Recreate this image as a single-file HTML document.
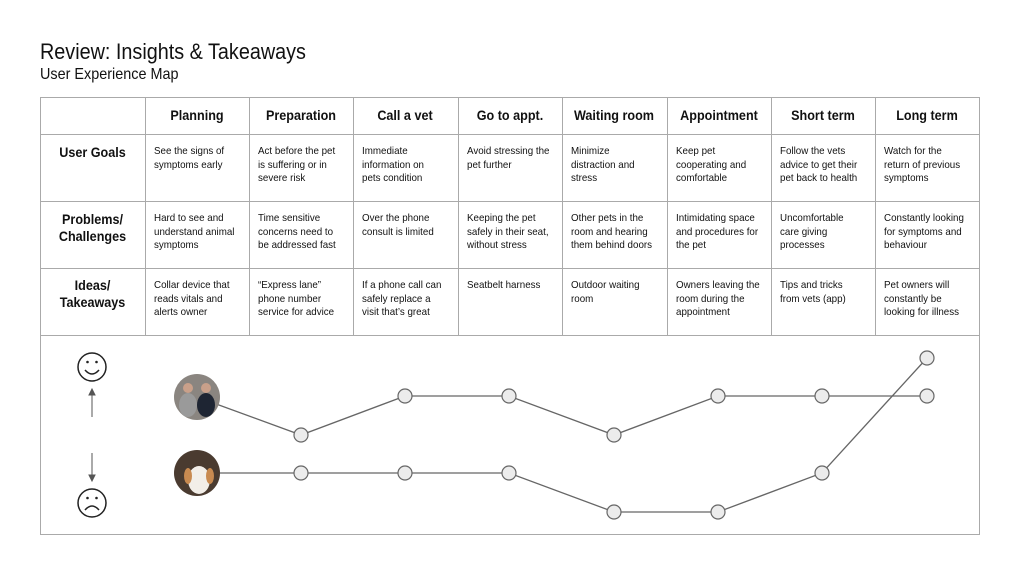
<!DOCTYPE html>
<html><head><meta charset="utf-8"><style>
body{margin:0;width:1020px;height:574px;background:#fff;position:relative;overflow:hidden;font-family:"Liberation Sans",sans-serif;color:#111}
.a{position:absolute}
h1{position:absolute;left:40px;top:39px;margin:0;font-size:22px;font-weight:normal;transform:scaleX(0.9);transform-origin:left;white-space:nowrap}
.sub{left:40px;top:66px;font-size:16px;transform:scaleX(0.9);transform-origin:left;white-space:nowrap}
.c{position:absolute;font-size:10.3px;line-height:13.5px;width:110px;transform:scaleX(0.95);transform-origin:left;white-space:nowrap}
.h{position:absolute;font-size:14px;font-weight:bold;text-align:center;width:104px;transform:scaleX(0.9);white-space:nowrap}
.r{position:absolute;font-size:14px;font-weight:bold;text-align:center;width:105px;left:40px;line-height:17px;transform:scaleX(0.9)}
</style></head><body>
<h1>Review: Insights &amp; Takeaways</h1>
<div class="a sub">User Experience Map</div>
<svg class="a" style="left:0;top:0" width="1020" height="574">
<g stroke="#aaa" stroke-width="1" fill="none">
<rect x="40.5" y="97.5" width="939" height="437"/>
<line x1="40" y1="134.5" x2="980" y2="134.5"/>
<line x1="40" y1="201.5" x2="980" y2="201.5"/>
<line x1="40" y1="268.5" x2="980" y2="268.5"/>
<line x1="40" y1="335.5" x2="980" y2="335.5"/>
<line x1="145.5" y1="97" x2="145.5" y2="335"/>
<line x1="249.5" y1="97" x2="249.5" y2="335"/>
<line x1="353.5" y1="97" x2="353.5" y2="335"/>
<line x1="458.5" y1="97" x2="458.5" y2="335"/>
<line x1="562.5" y1="97" x2="562.5" y2="335"/>
<line x1="667.5" y1="97" x2="667.5" y2="335"/>
<line x1="771.5" y1="97" x2="771.5" y2="335"/>
<line x1="875.5" y1="97" x2="875.5" y2="335"/>
</g>
<g stroke="#666" stroke-width="1.3" fill="none">
<polyline points="197,397 301,435 405,396 509,396 614,435 718,396 822,396 927,396"/>
<polyline points="197,473 301,473 405,473 509,473 614,512 718,512 822,473 927,358"/>
</g>
<g stroke="#666" stroke-width="1.2" fill="#ececec">
<circle cx="301" cy="435" r="7"/><circle cx="405" cy="396" r="7"/><circle cx="509" cy="396" r="7"/><circle cx="614" cy="435" r="7"/><circle cx="718" cy="396" r="7"/><circle cx="822" cy="396" r="7"/><circle cx="927" cy="396" r="7"/>
<circle cx="301" cy="473" r="7"/><circle cx="405" cy="473" r="7"/><circle cx="509" cy="473" r="7"/><circle cx="614" cy="512" r="7"/><circle cx="718" cy="512" r="7"/><circle cx="822" cy="473" r="7"/><circle cx="927" cy="358" r="7"/>
</g>
<circle cx="197" cy="397" r="23" fill="#8a8580"/>
<ellipse cx="188" cy="405" rx="9" ry="12" fill="#9a9a9a"/>
<ellipse cx="206" cy="405" rx="9" ry="12" fill="#1e2533"/>
<circle cx="188" cy="388" r="5" fill="#c9a08a"/><circle cx="206" cy="388" r="5" fill="#c9a08a"/>
<circle cx="197" cy="473" r="23" fill="#4a3b30"/>
<ellipse cx="199" cy="480" rx="11" ry="14" fill="#f2eee8"/>
<ellipse cx="188" cy="476" rx="4" ry="8" fill="#c88a50"/><ellipse cx="210" cy="476" rx="4" ry="8" fill="#c88a50"/>
<g stroke="#222" stroke-width="1.5" fill="none">
<circle cx="92" cy="367" r="14"/><path d="M85,370 Q92,378 99,370"/>
<circle cx="92" cy="503" r="14"/><path d="M85,510 Q92,502 99,510"/>
</g>
<circle cx="87.5" cy="362" r="1.3" fill="#222"/><circle cx="96.5" cy="362" r="1.3" fill="#222"/>
<circle cx="87.5" cy="498" r="1.3" fill="#222"/><circle cx="96.5" cy="498" r="1.3" fill="#222"/>
<g stroke="#555" stroke-width="1" fill="#555">
<line x1="92" y1="417" x2="92" y2="393"/><path d="M89,395 L92,389 L95,395Z"/>
<line x1="92" y1="453" x2="92" y2="477"/><path d="M89,475 L92,481 L95,475Z"/>
</g>
</svg>
<div class="h" style="left:145px;top:107px">Planning</div>
<div class="h" style="left:249px;top:107px">Preparation</div>
<div class="h" style="left:353px;top:107px">Call a vet</div>
<div class="h" style="left:458px;top:107px">Go to appt.</div>
<div class="h" style="left:562px;top:107px">Waiting room</div>
<div class="h" style="left:667px;top:107px">Appointment</div>
<div class="h" style="left:771px;top:107px">Short term</div>
<div class="h" style="left:875px;top:107px">Long term</div>
<div class="r" style="top:144px">User Goals</div>
<div class="r" style="top:211px">Problems/<br>Challenges</div>
<div class="r" style="top:277px">Ideas/<br>Takeaways</div>
<div class="c" style="left:154px;top:145px">See the signs of<br>symptoms early</div>
<div class="c" style="left:258px;top:145px">Act before the pet<br>is suffering or in<br>severe risk</div>
<div class="c" style="left:362px;top:145px">Immediate<br>information on<br>pets condition</div>
<div class="c" style="left:467px;top:145px">Avoid stressing the<br>pet further</div>
<div class="c" style="left:571px;top:145px">Minimize<br>distraction and<br>stress</div>
<div class="c" style="left:676px;top:145px">Keep pet<br>cooperating and<br>comfortable</div>
<div class="c" style="left:780px;top:145px">Follow the vets<br>advice to get their<br>pet back to health</div>
<div class="c" style="left:884px;top:145px">Watch for the<br>return of previous<br>symptoms</div>
<div class="c" style="left:154px;top:212px">Hard to see and<br>understand animal<br>symptoms</div>
<div class="c" style="left:258px;top:212px">Time sensitive<br>concerns need to<br>be addressed fast</div>
<div class="c" style="left:362px;top:212px">Over the phone<br>consult is limited</div>
<div class="c" style="left:467px;top:212px">Keeping the pet<br>safely in their seat,<br>without stress</div>
<div class="c" style="left:571px;top:212px">Other pets in the<br>room and hearing<br>them behind doors</div>
<div class="c" style="left:676px;top:212px">Intimidating space<br>and procedures for<br>the pet</div>
<div class="c" style="left:780px;top:212px">Uncomfortable<br>care giving<br>processes</div>
<div class="c" style="left:884px;top:212px">Constantly looking<br>for symptoms and<br>behaviour</div>
<div class="c" style="left:154px;top:279px">Collar device that<br>reads vitals and<br>alerts owner</div>
<div class="c" style="left:258px;top:279px">“Express lane”<br>phone number<br>service for advice</div>
<div class="c" style="left:362px;top:279px">If a phone call can<br>safely replace a<br>visit that’s great</div>
<div class="c" style="left:467px;top:279px">Seatbelt harness</div>
<div class="c" style="left:571px;top:279px">Outdoor waiting<br>room</div>
<div class="c" style="left:676px;top:279px">Owners leaving the<br>room during the<br>appointment</div>
<div class="c" style="left:780px;top:279px">Tips and tricks<br>from vets (app)</div>
<div class="c" style="left:884px;top:279px">Pet owners will<br>constantly be<br>looking for illness</div>
</body></html>
